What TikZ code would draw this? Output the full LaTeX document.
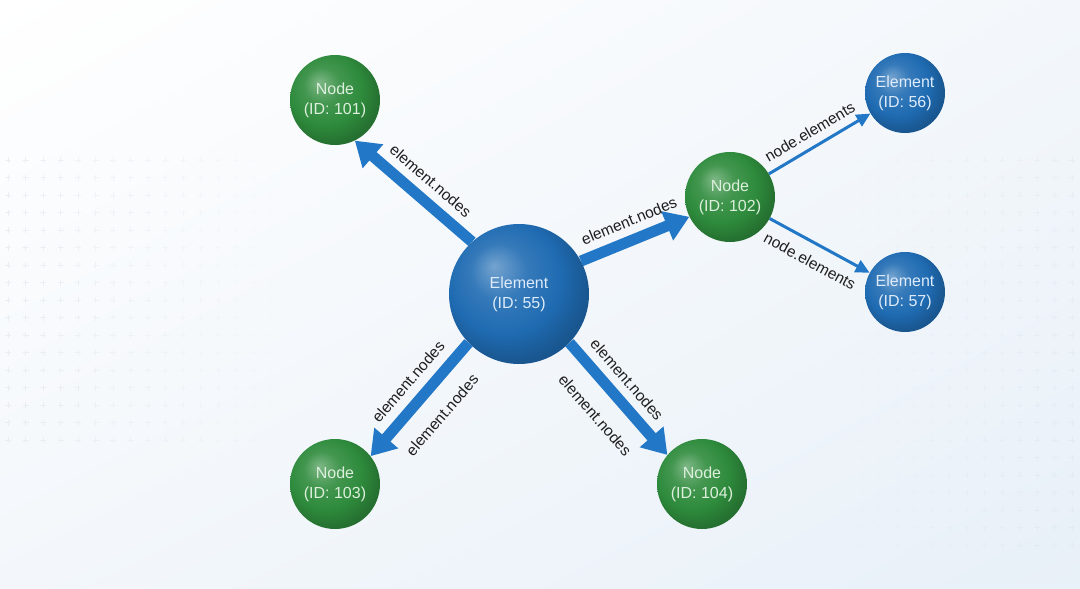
\documentclass[tikz,border=0pt]{standalone}
\usepackage{fontspec}
\setmainfont{Liberation Sans}
\usetikzlibrary{arrows.meta,shadings}
\definecolor{ng}{HTML}{2E8B3C}
\definecolor{nb}{HTML}{1F6BB2}
\definecolor{arrowblue}{HTML}{2278C6}
\definecolor{gtext}{HTML}{DDEFDD}
\definecolor{btext}{HTML}{DDEBFA}
\definecolor{bgblue}{HTML}{E8F0F8}
\definecolor{bgmid}{HTML}{F3F7FB}
\definecolor{gridc}{HTML}{C3CFD7}
\definecolor{labtext}{HTML}{1E1E1E}
\pgfdeclareradialshading{gball}{\pgfqpoint{-9bp}{10bp}}{%
  color(0bp)=(ng!62!white); color(10bp)=(ng!90!white); color(20bp)=(ng); color(28bp)=(ng!82!black); color(50bp)=(ng!55!black)}
\pgfdeclareradialshading{bball}{\pgfqpoint{-9bp}{10bp}}{%
  color(0bp)=(nb!62!white); color(10bp)=(nb!90!white); color(20bp)=(nb); color(28bp)=(nb!82!black); color(50bp)=(nb!55!black)}
\pgfdeclarelayer{bg}
\pgfdeclarelayer{edges}
\pgfsetlayers{bg,edges,main}
\begin{document}
\begin{tikzpicture}[x=1pt,y=-1pt,
  ballnode/.style={circle, minimum size=#1, inner sep=0pt, align=center,
    font=\fontsize{16}{20}\selectfont},
  greenball/.style={ballnode=#1, shade, shading=gball, text=gtext},
  blueball/.style={ballnode=#1, shade, shading=bball, text=btext},
  bigarrow/.style={draw=arrowblue, line width=11pt, -{Triangle[length=24pt,width=30pt]}},
  thinarrow/.style={draw=arrowblue, line width=3pt, -{Triangle[length=14pt,width=13pt]}},
  lab/.style={font=\fontsize{15.5}{18}\selectfont, text=labtext, sloped, inner sep=2pt},
  plusmark/.style={draw=gridc, line width=0.6pt}
]
\useasboundingbox (0,0) rectangle (1080,589);
\begin{pgfonlayer}{bg}
  \shade[upper left=white, upper right=bgmid, lower left=bgmid, lower right=bgblue] (0,0) rectangle (1080,589);
  % faint plus grid, left side
  \foreach \i in {0,...,16} {
    \foreach \j in {0,...,16} {
      \pgfmathsetmacro{\px}{8+17.5*\i}
      \pgfmathsetmacro{\py}{160+17.5*\j}
      \pgfmathsetmacro{\op}{max(0,0.28*(1-\i/17))}
      \draw[plusmark, opacity=\op] (\px-3,\py) -- (\px+3,\py) (\px,\py-3) -- (\px,\py+3);
    }
  }
  % faint plus grid, right side
  \foreach \i in {0,...,14} {
    \foreach \j in {0,...,22} {
      \pgfmathsetmacro{\px}{1072-17.5*\i}
      \pgfmathsetmacro{\py}{160+17.5*\j}
      \pgfmathsetmacro{\op}{max(0,0.18*(1-\i/15))}
      \draw[plusmark, opacity=\op] (\px-3,\py) -- (\px+3,\py) (\px,\py-3) -- (\px,\py+3);
    }
  }
\end{pgfonlayer}

\node[blueball=140pt] (e55) at (519,294) {Element\\(ID: 55)};
\node[greenball=90pt] (n101) at (335,100) {Node\\(ID: 101)};
\node[greenball=90pt] (n102) at (730,197) {Node\\(ID: 102)};
\node[greenball=90pt] (n103) at (335,484) {Node\\(ID: 103)};
\node[greenball=90pt] (n104) at (702,484) {Node\\(ID: 104)};
\node[blueball=80pt] (e56) at (905,93) {Element\\(ID: 56)};
\node[blueball=80pt] (e57) at (905,292) {Element\\(ID: 57)};

\begin{pgfonlayer}{edges}
  \draw[bigarrow] (e55.132) -- (n101.-64)
    node[lab, above=6pt, pos=0.46] {element.nodes};
  \draw[bigarrow] (e55.28) -- (n102.206)
    node[lab, above=6pt, pos=0.51] {element.nodes};
  \draw[bigarrow] (e55.224) -- (n103.38)
    node[lab, above=7pt, pos=0.46] {element.nodes}
    node[lab, below=14pt, pos=0.48] {element.nodes};
  \draw[bigarrow] (e55.-44) -- (n104.140)
    node[lab, above=6pt, pos=0.44] {element.nodes}
    node[lab, below=15pt, pos=0.48] {element.nodes};
  \draw[thinarrow] (n102) -- (e56)
    node[lab, above=6pt, pos=0.48] {node.elements};
  \draw[thinarrow] (n102) -- (e57)
    node[lab, below=9pt, pos=0.49] {node.elements};
\end{pgfonlayer}
\end{tikzpicture}
\end{document}
